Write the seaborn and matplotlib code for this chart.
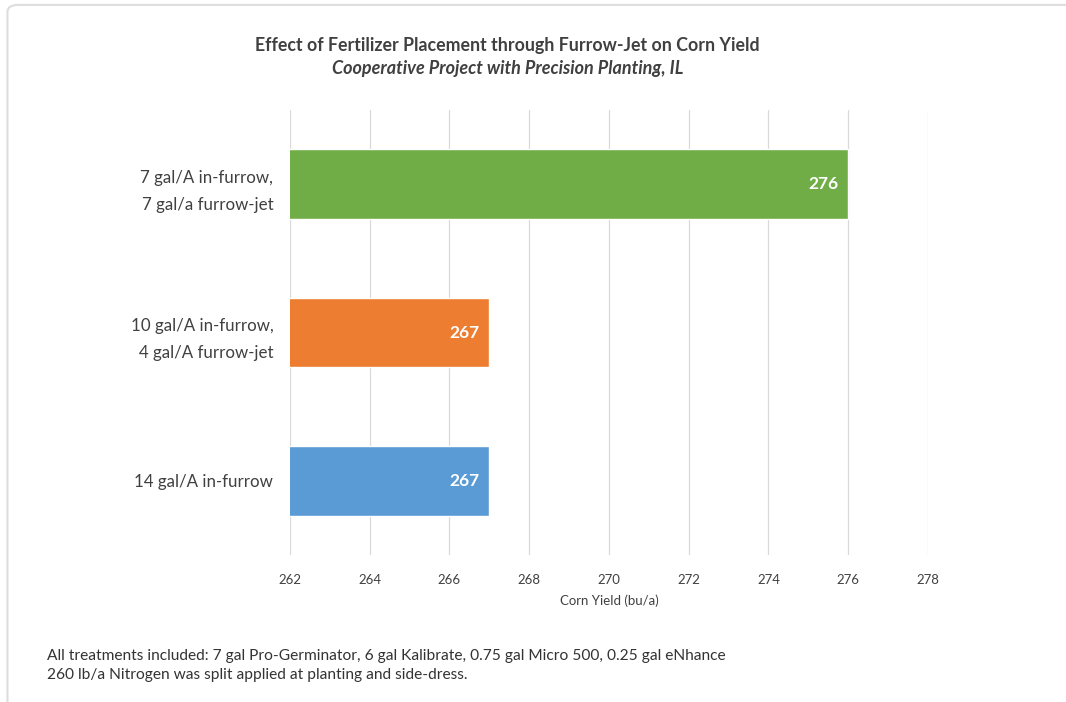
import matplotlib
matplotlib.use("Agg")
import matplotlib.pyplot as plt
import seaborn as sns
import pandas as pd
from matplotlib.patches import FancyBboxPatch

categories = ["7 gal/A in-furrow,\n7 gal/a furrow-jet",
              "10 gal/A in-furrow,\n4 gal/A furrow-jet",
              "14 gal/A in-furrow"]
yields = [276, 267, 267]
colors = ["#70AD47", "#ED7D31", "#5B9BD5"]
xticks = [262, 264, 266, 268, 270, 272, 274, 276, 278]

sns.set_theme(style="white")
plt.rcParams['font.family'] = ['Lato', 'DejaVu Sans']

df = pd.DataFrame({"cat": categories, "yield": yields})

fig = plt.figure(figsize=(10.66, 7.02), dpi=100)
# card border
fig.patches.append(FancyBboxPatch((0.007, -0.05), 1.2, 1.043, boxstyle="round,pad=0,rounding_size=0.01",
                                  transform=fig.transFigure, fill=False, edgecolor="#dddddd", linewidth=1.5))
ax = fig.add_axes([0.272, 0.2094, 0.5985, 0.6339])

sns.barplot(data=df, x="yield", y="cat", hue="cat", palette=colors, orient="h",
            width=0.47, saturation=1, legend=False, ax=ax, zorder=3)
ax.set_xlim(262, 278)
ax.set_ylim(2.5, -0.5)
ax.set_xticks(xticks)
ax.set_xticklabels([str(t) for t in xticks], fontsize=9.5, color="#404040")
ax.tick_params(axis="x", length=0, pad=14)
ax.tick_params(axis="y", length=0, pad=12)
for lab in ax.get_yticklabels():
    lab.set_fontsize(12.2)
    lab.set_color("#404040")
    lab.set_horizontalalignment("right")
    lab.set_linespacing(1.85)
ax.grid(axis="x", color="#d9d9d9", linewidth=0.9, zorder=0)
ax.grid(axis="y", visible=False)
for s in ax.spines.values():
    s.set_visible(False)
ax.set_ylabel("")
ax.set_xlabel("Corn Yield (bu/a)", fontsize=9.5, color="#404040", labelpad=6)

for p, v in zip(ax.patches, yields):
    ax.text(p.get_x() + p.get_width() - 0.25, p.get_y() + p.get_height() / 2, str(v),
            ha="right", va="center", color="white", fontsize=12.5, fontweight="bold", zorder=4)

fig.text(0.476, 0.935, "Effect of Fertilizer Placement through Furrow-Jet on Corn Yield",
         ha="center", va="center", fontsize=12.8, fontweight="bold", color="#404040")
fig.text(0.476, 0.902, "Cooperative Project with Precision Planting, IL",
         ha="center", va="center", fontsize=13, fontweight="bold", style="italic", color="#404040")

fig.text(0.044, 0.066, "All treatments included: 7 gal Pro-Germinator, 6 gal Kalibrate, 0.75 gal Micro 500, 0.25 gal eNhance",
         ha="left", va="center", fontsize=11.2, color="#333333")
fig.text(0.044, 0.039, "260 lb/a Nitrogen was split applied at planting and side-dress.",
         ha="left", va="center", fontsize=11.2, color="#333333")

fig.savefig("out.png", dpi=100, facecolor="white")
